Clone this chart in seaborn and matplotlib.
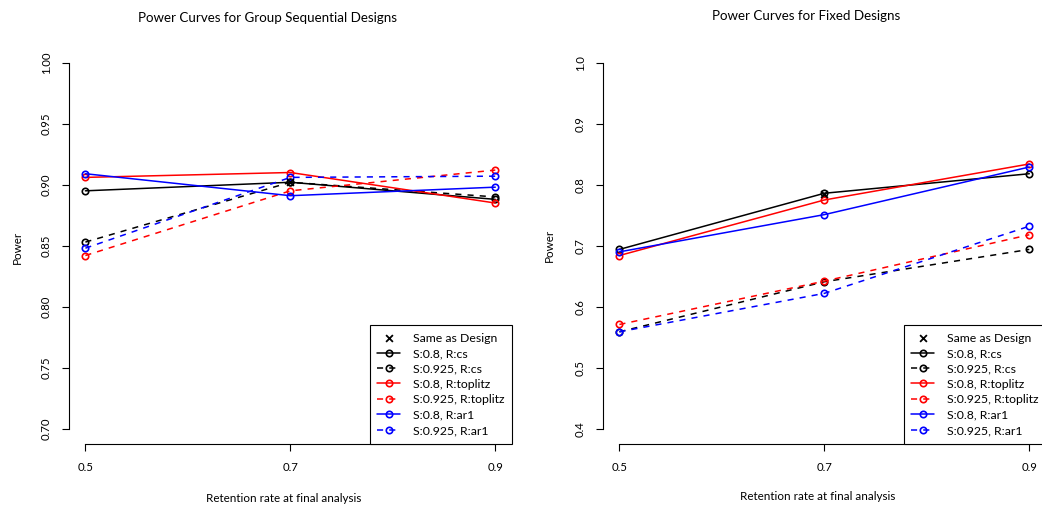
import numpy as np
import pandas as pd
import matplotlib
matplotlib.use("Agg")
import matplotlib.pyplot as plt
import seaborn as sns

# ---------------- data ----------------
retention = [0.5, 0.7, 0.9]

series_labels = ["S:0.8, R:cs", "S:0.925, R:cs",
                 "S:0.8, R:toplitz", "S:0.925, R:toplitz",
                 "S:0.8, R:ar1", "S:0.925, R:ar1"]
series_colors = ["black", "black", "red", "red", "blue", "blue"]
series_dashed = [False, True, False, True, False, True]

# Group sequential designs
gs_cs_08 = [0.895, 0.902, 0.888]
gs_cs_0925 = [0.853, 0.902, 0.890]
gs_tp_08 = [0.906, 0.910, 0.885]
gs_tp_0925 = [0.842, 0.895, 0.912]
gs_ar1_08 = [0.909, 0.891, 0.898]
gs_ar1_0925 = [0.848, 0.906, 0.907]
gs_design_x = [0.7]
gs_design_y = [0.902]

# Fixed designs
fx_cs_08 = [0.694, 0.786, 0.818]
fx_cs_0925 = [0.559, 0.641, 0.694]
fx_tp_08 = [0.684, 0.775, 0.834]
fx_tp_0925 = [0.571, 0.642, 0.718]
fx_ar1_08 = [0.690, 0.751, 0.829]
fx_ar1_0925 = [0.559, 0.622, 0.732]
fx_design_x = [0.7]
fx_design_y = [0.785]

gs_ticks = [0.70, 0.75, 0.80, 0.85, 0.90, 0.95, 1.00]
fx_ticks = [0.4, 0.5, 0.6, 0.7, 0.8, 0.9, 1.0]

titles = ["Power Curves for Group Sequential Designs", "Power Curves for Fixed Designs"]
xlabel = "Retention rate at final analysis"
ylabel = "Power"

# ---------------- style ----------------
sns.set_theme(style="white")
plt.rcParams["font.family"] = ["Lato", "DejaVu Sans"]
plt.rcParams["axes.linewidth"] = 0.8

W, H = 1042, 509
fig = plt.figure(figsize=(W / 100, H / 100), dpi=100)

def px_axes(x0, y_top, x1, y_bot):
    return fig.add_axes([x0 / W, 1 - y_bot / H, (x1 - x0) / W, (y_bot - y_top) / H])

axL = px_axes(69, 48, 511.7, 443.5)
axR = px_axes(603, 48, 1045.7, 443.5)

def draw(ax, data, dx, dy, ticks, fmt, ylim):
    sns.scatterplot(x=dx, y=dy, ax=ax, marker="x", color="black", s=24,
                    linewidth=1.3, label="Same as Design", zorder=6)
    for vals, lab, col, dsh in zip(data, series_labels, series_colors, series_dashed):
        ls = (0, (4, 4)) if dsh else "-"
        sns.lineplot(x=retention, y=vals, ax=ax, color=col, linestyle=ls,
                     marker="o", markersize=4.6, markerfacecolor="none",
                     markeredgecolor=col, markeredgewidth=1.2, linewidth=1.1,
                     label=lab, sort=False, errorbar=None)
    ax.set_xlim(0.484, 0.916)
    ax.set_ylim(*ylim)
    ax.set_xticks(retention)
    ax.set_xticklabels([f"{v:.1f}" for v in retention])
    ax.set_yticks(ticks)
    ax.set_yticklabels([fmt.format(v) for v in ticks], rotation=90, va="center")
    for s in ["top", "right"]:
        ax.spines[s].set_visible(False)
    ax.spines["left"].set_bounds(ticks[0], ticks[-1])
    ax.spines["bottom"].set_bounds(retention[0], retention[-1])
    for s in ["left", "bottom"]:
        ax.spines[s].set_color("black")
        ax.spines[s].set_linewidth(0.8)
    ax.tick_params(axis="both", which="major", direction="out", length=5.2,
                   width=0.8, color="black", labelsize=8.2, labelcolor="black",
                   left=True, bottom=True)
    ax.tick_params(axis="y", pad=7)
    ax.tick_params(axis="x", pad=8)
    ax.set_xlabel("")
    ax.set_ylabel("")
    ax.patch.set_alpha(0)
    h, l = ax.get_legend_handles_labels()
    leg = ax.legend(h, l, loc="lower right", bbox_to_anchor=(1, 0),
                    borderaxespad=0, frameon=True, fancybox=False,
                    edgecolor="black", fontsize=8.8, handlelength=1.9,
                    handletextpad=1.0, labelspacing=0.36, borderpad=0.62)
    leg.get_frame().set_linewidth(0.8)
    leg.get_frame().set_alpha(1)
    for t in leg.get_texts():
        t.set_color("black")

draw(axL, [gs_cs_08, gs_cs_0925, gs_tp_08, gs_tp_0925, gs_ar1_08, gs_ar1_0925],
     gs_design_x, gs_design_y, gs_ticks, "{:.2f}", (0.688, 1.012))
draw(axR, [fx_cs_08, fx_cs_0925, fx_tp_08, fx_tp_0925, fx_ar1_08, fx_ar1_0925],
     fx_design_x, fx_design_y, fx_ticks, "{:.1f}", (0.376, 1.024))

def ftext(x, y, s, **kw):
    fig.text(x / W, 1 - y / H, s, ha="center", va="center", color="black", **kw)

ftext(267.5, 18, titles[0], fontsize=9.6)
ftext(806, 16, titles[1], fontsize=9.6)
ftext(283.5, 499, xlabel, fontsize=8.4)
ftext(817.5, 496, xlabel, fontsize=8.4)
ftext(17, 247, ylabel, fontsize=8.4, rotation=90)
ftext(549, 245, ylabel, fontsize=8.4, rotation=90)

fig.savefig("out.png", dpi=100, facecolor="white")
